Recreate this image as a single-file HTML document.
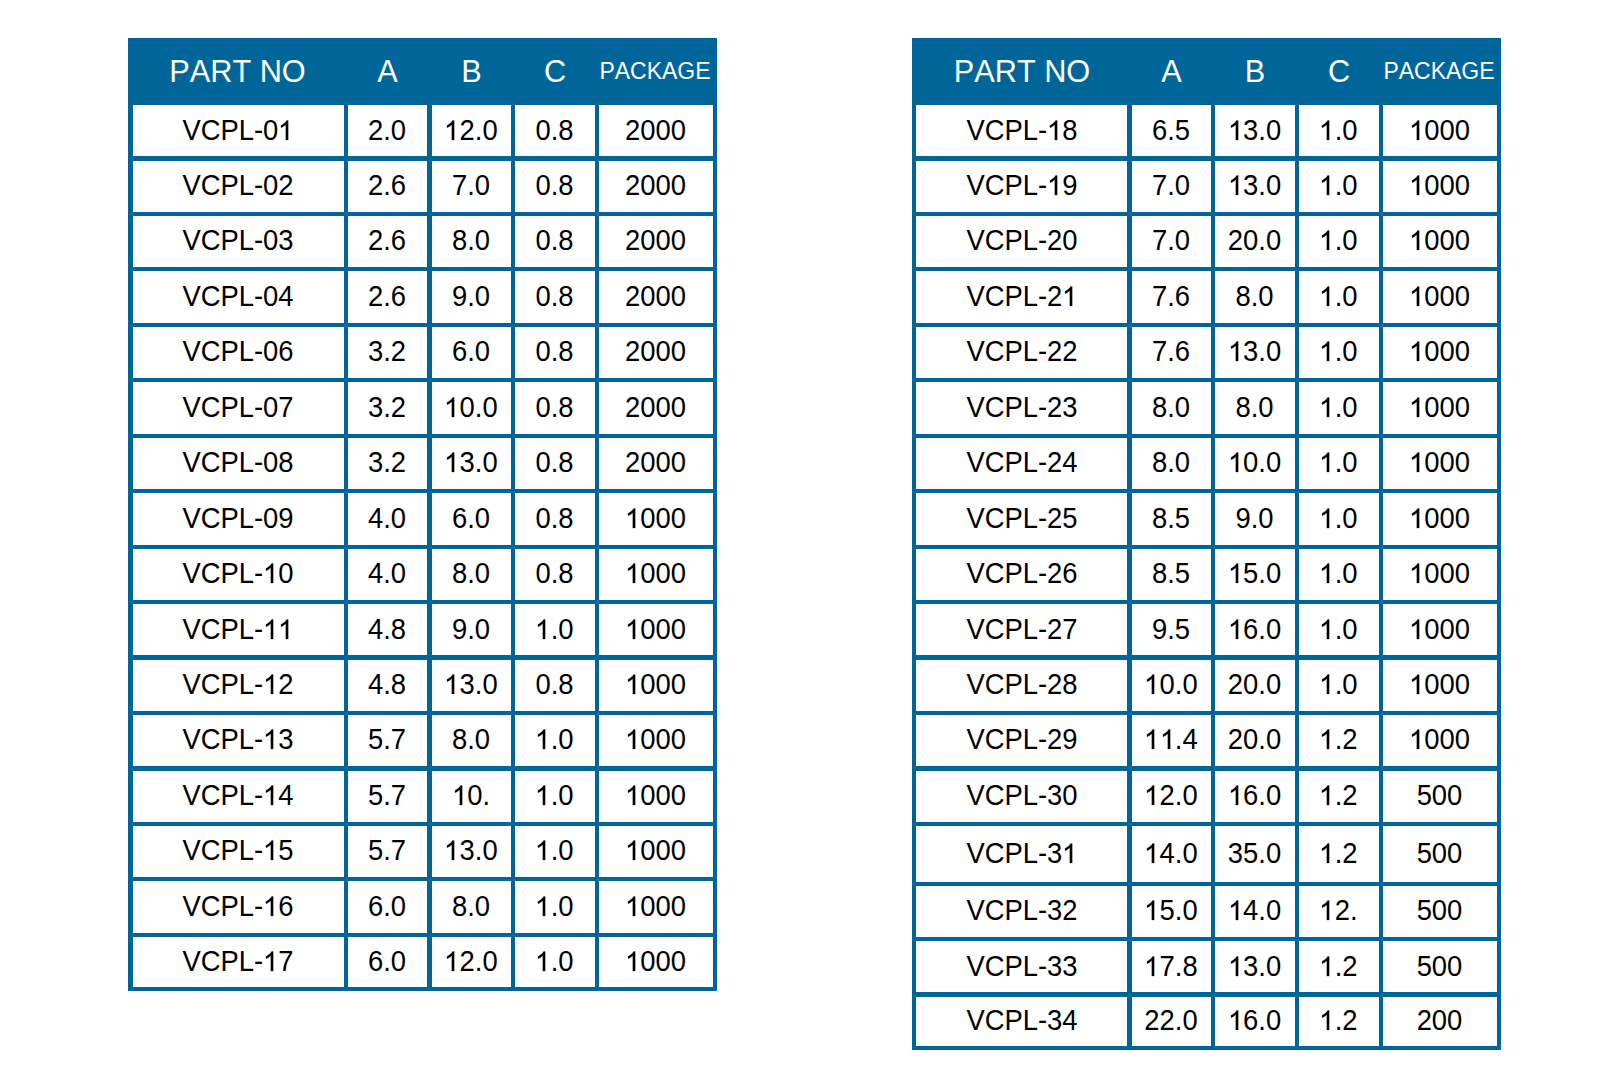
<!DOCTYPE html>
<html><head><meta charset="utf-8"><title>VCPL parts table</title>
<style>
html,body{margin:0;padding:0;background:#fff;}
body{width:1603px;height:1068px;position:relative;overflow:hidden;font-family:"Liberation Sans",sans-serif;}
.r{position:absolute;background:#006699;}
.c,.h,.hp{position:absolute;text-align:center;white-space:nowrap;font-kerning:none;transform:scaleY(1.041);transform-origin:50% 50%;}
.c{color:#000;font-size:27.4px;margin-left:-0.5px;transform:scaleY(1.0486);}
.h{color:#fff;font-size:30.7px;}
.hp{color:#fff;font-size:23px;margin-left:-1px;transform:scaleY(1.065);}
.one{display:inline-block;width:0.55615em;height:0.680em;vertical-align:0.010em;fill:#000;stroke:#000;stroke-width:16;overflow:visible;}
</style></head><body>
<div class="r" style="left:128px;top:38px;width:589px;height:67px"></div>
<div class="r" style="left:128px;top:105px;width:5px;height:886px"></div>
<div class="r" style="left:344px;top:105px;width:4px;height:886px"></div>
<div class="r" style="left:427px;top:105px;width:5px;height:886px"></div>
<div class="r" style="left:511px;top:105px;width:4px;height:886px"></div>
<div class="r" style="left:595px;top:105px;width:4px;height:886px"></div>
<div class="r" style="left:713px;top:105px;width:4px;height:886px"></div>
<div class="r" style="left:128px;top:156px;width:589px;height:5px"></div>
<div class="r" style="left:128px;top:212px;width:589px;height:4px"></div>
<div class="r" style="left:128px;top:267px;width:589px;height:4px"></div>
<div class="r" style="left:128px;top:323px;width:589px;height:4px"></div>
<div class="r" style="left:128px;top:378px;width:589px;height:4px"></div>
<div class="r" style="left:128px;top:434px;width:589px;height:4px"></div>
<div class="r" style="left:128px;top:489px;width:589px;height:4px"></div>
<div class="r" style="left:128px;top:545px;width:589px;height:4px"></div>
<div class="r" style="left:128px;top:600px;width:589px;height:4px"></div>
<div class="r" style="left:128px;top:655px;width:589px;height:5px"></div>
<div class="r" style="left:128px;top:711px;width:589px;height:4px"></div>
<div class="r" style="left:128px;top:766px;width:589px;height:5px"></div>
<div class="r" style="left:128px;top:822px;width:589px;height:4px"></div>
<div class="r" style="left:128px;top:877px;width:589px;height:4px"></div>
<div class="r" style="left:128px;top:933px;width:589px;height:4px"></div>
<div class="r" style="left:128px;top:987px;width:589px;height:4px"></div>
<div class="h" style="left:112px;top:38px;width:251px;height:67px;line-height:67px">PART NO</div>
<div class="h" style="left:328px;top:38px;width:119px;height:67px;line-height:67px">A</div>
<div class="h" style="left:412px;top:38px;width:119px;height:67px;line-height:67px">B</div>
<div class="h" style="left:495px;top:38px;width:120px;height:67px;line-height:67px">C</div>
<div class="hp" style="left:579px;top:38px;width:154px;height:67px;line-height:67px">PACKAGE</div>
<div class="c" style="left:133px;top:111px;width:211px;height:40px;line-height:40px">VCPL-0<svg class="one" viewBox="0 -1472 1139 1472" preserveAspectRatio="none"><path d="M763 0H583V-1147Q518 -1085 412.5 -1023Q307 -961 223 -930V-1104Q374 -1175 487 -1276Q600 -1377 647 -1472H763Z"/></svg></div>
<div class="c" style="left:348px;top:111px;width:79px;height:40px;line-height:40px">2.0</div>
<div class="c" style="left:432px;top:111px;width:79px;height:40px;line-height:40px"><svg class="one" viewBox="0 -1472 1139 1472" preserveAspectRatio="none"><path d="M763 0H583V-1147Q518 -1085 412.5 -1023Q307 -961 223 -930V-1104Q374 -1175 487 -1276Q600 -1377 647 -1472H763Z"/></svg>2.0</div>
<div class="c" style="left:515px;top:111px;width:80px;height:40px;line-height:40px">0.8</div>
<div class="c" style="left:599px;top:111px;width:114px;height:40px;line-height:40px">2000</div>
<div class="c" style="left:133px;top:166px;width:211px;height:40px;line-height:40px">VCPL-02</div>
<div class="c" style="left:348px;top:166px;width:79px;height:40px;line-height:40px">2.6</div>
<div class="c" style="left:432px;top:166px;width:79px;height:40px;line-height:40px">7.0</div>
<div class="c" style="left:515px;top:166px;width:80px;height:40px;line-height:40px">0.8</div>
<div class="c" style="left:599px;top:166px;width:114px;height:40px;line-height:40px">2000</div>
<div class="c" style="left:133px;top:221px;width:211px;height:40px;line-height:40px">VCPL-03</div>
<div class="c" style="left:348px;top:221px;width:79px;height:40px;line-height:40px">2.6</div>
<div class="c" style="left:432px;top:221px;width:79px;height:40px;line-height:40px">8.0</div>
<div class="c" style="left:515px;top:221px;width:80px;height:40px;line-height:40px">0.8</div>
<div class="c" style="left:599px;top:221px;width:114px;height:40px;line-height:40px">2000</div>
<div class="c" style="left:133px;top:277px;width:211px;height:40px;line-height:40px">VCPL-04</div>
<div class="c" style="left:348px;top:277px;width:79px;height:40px;line-height:40px">2.6</div>
<div class="c" style="left:432px;top:277px;width:79px;height:40px;line-height:40px">9.0</div>
<div class="c" style="left:515px;top:277px;width:80px;height:40px;line-height:40px">0.8</div>
<div class="c" style="left:599px;top:277px;width:114px;height:40px;line-height:40px">2000</div>
<div class="c" style="left:133px;top:332px;width:211px;height:40px;line-height:40px">VCPL-06</div>
<div class="c" style="left:348px;top:332px;width:79px;height:40px;line-height:40px">3.2</div>
<div class="c" style="left:432px;top:332px;width:79px;height:40px;line-height:40px">6.0</div>
<div class="c" style="left:515px;top:332px;width:80px;height:40px;line-height:40px">0.8</div>
<div class="c" style="left:599px;top:332px;width:114px;height:40px;line-height:40px">2000</div>
<div class="c" style="left:133px;top:388px;width:211px;height:40px;line-height:40px">VCPL-07</div>
<div class="c" style="left:348px;top:388px;width:79px;height:40px;line-height:40px">3.2</div>
<div class="c" style="left:432px;top:388px;width:79px;height:40px;line-height:40px"><svg class="one" viewBox="0 -1472 1139 1472" preserveAspectRatio="none"><path d="M763 0H583V-1147Q518 -1085 412.5 -1023Q307 -961 223 -930V-1104Q374 -1175 487 -1276Q600 -1377 647 -1472H763Z"/></svg>0.0</div>
<div class="c" style="left:515px;top:388px;width:80px;height:40px;line-height:40px">0.8</div>
<div class="c" style="left:599px;top:388px;width:114px;height:40px;line-height:40px">2000</div>
<div class="c" style="left:133px;top:443px;width:211px;height:40px;line-height:40px">VCPL-08</div>
<div class="c" style="left:348px;top:443px;width:79px;height:40px;line-height:40px">3.2</div>
<div class="c" style="left:432px;top:443px;width:79px;height:40px;line-height:40px"><svg class="one" viewBox="0 -1472 1139 1472" preserveAspectRatio="none"><path d="M763 0H583V-1147Q518 -1085 412.5 -1023Q307 -961 223 -930V-1104Q374 -1175 487 -1276Q600 -1377 647 -1472H763Z"/></svg>3.0</div>
<div class="c" style="left:515px;top:443px;width:80px;height:40px;line-height:40px">0.8</div>
<div class="c" style="left:599px;top:443px;width:114px;height:40px;line-height:40px">2000</div>
<div class="c" style="left:133px;top:499px;width:211px;height:40px;line-height:40px">VCPL-09</div>
<div class="c" style="left:348px;top:499px;width:79px;height:40px;line-height:40px">4.0</div>
<div class="c" style="left:432px;top:499px;width:79px;height:40px;line-height:40px">6.0</div>
<div class="c" style="left:515px;top:499px;width:80px;height:40px;line-height:40px">0.8</div>
<div class="c" style="left:599px;top:499px;width:114px;height:40px;line-height:40px"><svg class="one" viewBox="0 -1472 1139 1472" preserveAspectRatio="none"><path d="M763 0H583V-1147Q518 -1085 412.5 -1023Q307 -961 223 -930V-1104Q374 -1175 487 -1276Q600 -1377 647 -1472H763Z"/></svg>000</div>
<div class="c" style="left:133px;top:554px;width:211px;height:40px;line-height:40px">VCPL-<svg class="one" viewBox="0 -1472 1139 1472" preserveAspectRatio="none"><path d="M763 0H583V-1147Q518 -1085 412.5 -1023Q307 -961 223 -930V-1104Q374 -1175 487 -1276Q600 -1377 647 -1472H763Z"/></svg>0</div>
<div class="c" style="left:348px;top:554px;width:79px;height:40px;line-height:40px">4.0</div>
<div class="c" style="left:432px;top:554px;width:79px;height:40px;line-height:40px">8.0</div>
<div class="c" style="left:515px;top:554px;width:80px;height:40px;line-height:40px">0.8</div>
<div class="c" style="left:599px;top:554px;width:114px;height:40px;line-height:40px"><svg class="one" viewBox="0 -1472 1139 1472" preserveAspectRatio="none"><path d="M763 0H583V-1147Q518 -1085 412.5 -1023Q307 -961 223 -930V-1104Q374 -1175 487 -1276Q600 -1377 647 -1472H763Z"/></svg>000</div>
<div class="c" style="left:133px;top:610px;width:211px;height:40px;line-height:40px">VCPL-<svg class="one" viewBox="0 -1472 1139 1472" preserveAspectRatio="none"><path d="M763 0H583V-1147Q518 -1085 412.5 -1023Q307 -961 223 -930V-1104Q374 -1175 487 -1276Q600 -1377 647 -1472H763Z"/></svg><svg class="one" viewBox="0 -1472 1139 1472" preserveAspectRatio="none"><path d="M763 0H583V-1147Q518 -1085 412.5 -1023Q307 -961 223 -930V-1104Q374 -1175 487 -1276Q600 -1377 647 -1472H763Z"/></svg></div>
<div class="c" style="left:348px;top:610px;width:79px;height:40px;line-height:40px">4.8</div>
<div class="c" style="left:432px;top:610px;width:79px;height:40px;line-height:40px">9.0</div>
<div class="c" style="left:515px;top:610px;width:80px;height:40px;line-height:40px"><svg class="one" viewBox="0 -1472 1139 1472" preserveAspectRatio="none"><path d="M763 0H583V-1147Q518 -1085 412.5 -1023Q307 -961 223 -930V-1104Q374 -1175 487 -1276Q600 -1377 647 -1472H763Z"/></svg>.0</div>
<div class="c" style="left:599px;top:610px;width:114px;height:40px;line-height:40px"><svg class="one" viewBox="0 -1472 1139 1472" preserveAspectRatio="none"><path d="M763 0H583V-1147Q518 -1085 412.5 -1023Q307 -961 223 -930V-1104Q374 -1175 487 -1276Q600 -1377 647 -1472H763Z"/></svg>000</div>
<div class="c" style="left:133px;top:665px;width:211px;height:40px;line-height:40px">VCPL-<svg class="one" viewBox="0 -1472 1139 1472" preserveAspectRatio="none"><path d="M763 0H583V-1147Q518 -1085 412.5 -1023Q307 -961 223 -930V-1104Q374 -1175 487 -1276Q600 -1377 647 -1472H763Z"/></svg>2</div>
<div class="c" style="left:348px;top:665px;width:79px;height:40px;line-height:40px">4.8</div>
<div class="c" style="left:432px;top:665px;width:79px;height:40px;line-height:40px"><svg class="one" viewBox="0 -1472 1139 1472" preserveAspectRatio="none"><path d="M763 0H583V-1147Q518 -1085 412.5 -1023Q307 -961 223 -930V-1104Q374 -1175 487 -1276Q600 -1377 647 -1472H763Z"/></svg>3.0</div>
<div class="c" style="left:515px;top:665px;width:80px;height:40px;line-height:40px">0.8</div>
<div class="c" style="left:599px;top:665px;width:114px;height:40px;line-height:40px"><svg class="one" viewBox="0 -1472 1139 1472" preserveAspectRatio="none"><path d="M763 0H583V-1147Q518 -1085 412.5 -1023Q307 -961 223 -930V-1104Q374 -1175 487 -1276Q600 -1377 647 -1472H763Z"/></svg>000</div>
<div class="c" style="left:133px;top:720px;width:211px;height:40px;line-height:40px">VCPL-<svg class="one" viewBox="0 -1472 1139 1472" preserveAspectRatio="none"><path d="M763 0H583V-1147Q518 -1085 412.5 -1023Q307 -961 223 -930V-1104Q374 -1175 487 -1276Q600 -1377 647 -1472H763Z"/></svg>3</div>
<div class="c" style="left:348px;top:720px;width:79px;height:40px;line-height:40px">5.7</div>
<div class="c" style="left:432px;top:720px;width:79px;height:40px;line-height:40px">8.0</div>
<div class="c" style="left:515px;top:720px;width:80px;height:40px;line-height:40px"><svg class="one" viewBox="0 -1472 1139 1472" preserveAspectRatio="none"><path d="M763 0H583V-1147Q518 -1085 412.5 -1023Q307 -961 223 -930V-1104Q374 -1175 487 -1276Q600 -1377 647 -1472H763Z"/></svg>.0</div>
<div class="c" style="left:599px;top:720px;width:114px;height:40px;line-height:40px"><svg class="one" viewBox="0 -1472 1139 1472" preserveAspectRatio="none"><path d="M763 0H583V-1147Q518 -1085 412.5 -1023Q307 -961 223 -930V-1104Q374 -1175 487 -1276Q600 -1377 647 -1472H763Z"/></svg>000</div>
<div class="c" style="left:133px;top:776px;width:211px;height:40px;line-height:40px">VCPL-<svg class="one" viewBox="0 -1472 1139 1472" preserveAspectRatio="none"><path d="M763 0H583V-1147Q518 -1085 412.5 -1023Q307 -961 223 -930V-1104Q374 -1175 487 -1276Q600 -1377 647 -1472H763Z"/></svg>4</div>
<div class="c" style="left:348px;top:776px;width:79px;height:40px;line-height:40px">5.7</div>
<div class="c" style="left:432px;top:776px;width:79px;height:40px;line-height:40px"><svg class="one" viewBox="0 -1472 1139 1472" preserveAspectRatio="none"><path d="M763 0H583V-1147Q518 -1085 412.5 -1023Q307 -961 223 -930V-1104Q374 -1175 487 -1276Q600 -1377 647 -1472H763Z"/></svg>0.</div>
<div class="c" style="left:515px;top:776px;width:80px;height:40px;line-height:40px"><svg class="one" viewBox="0 -1472 1139 1472" preserveAspectRatio="none"><path d="M763 0H583V-1147Q518 -1085 412.5 -1023Q307 -961 223 -930V-1104Q374 -1175 487 -1276Q600 -1377 647 -1472H763Z"/></svg>.0</div>
<div class="c" style="left:599px;top:776px;width:114px;height:40px;line-height:40px"><svg class="one" viewBox="0 -1472 1139 1472" preserveAspectRatio="none"><path d="M763 0H583V-1147Q518 -1085 412.5 -1023Q307 -961 223 -930V-1104Q374 -1175 487 -1276Q600 -1377 647 -1472H763Z"/></svg>000</div>
<div class="c" style="left:133px;top:831px;width:211px;height:40px;line-height:40px">VCPL-<svg class="one" viewBox="0 -1472 1139 1472" preserveAspectRatio="none"><path d="M763 0H583V-1147Q518 -1085 412.5 -1023Q307 -961 223 -930V-1104Q374 -1175 487 -1276Q600 -1377 647 -1472H763Z"/></svg>5</div>
<div class="c" style="left:348px;top:831px;width:79px;height:40px;line-height:40px">5.7</div>
<div class="c" style="left:432px;top:831px;width:79px;height:40px;line-height:40px"><svg class="one" viewBox="0 -1472 1139 1472" preserveAspectRatio="none"><path d="M763 0H583V-1147Q518 -1085 412.5 -1023Q307 -961 223 -930V-1104Q374 -1175 487 -1276Q600 -1377 647 -1472H763Z"/></svg>3.0</div>
<div class="c" style="left:515px;top:831px;width:80px;height:40px;line-height:40px"><svg class="one" viewBox="0 -1472 1139 1472" preserveAspectRatio="none"><path d="M763 0H583V-1147Q518 -1085 412.5 -1023Q307 -961 223 -930V-1104Q374 -1175 487 -1276Q600 -1377 647 -1472H763Z"/></svg>.0</div>
<div class="c" style="left:599px;top:831px;width:114px;height:40px;line-height:40px"><svg class="one" viewBox="0 -1472 1139 1472" preserveAspectRatio="none"><path d="M763 0H583V-1147Q518 -1085 412.5 -1023Q307 -961 223 -930V-1104Q374 -1175 487 -1276Q600 -1377 647 -1472H763Z"/></svg>000</div>
<div class="c" style="left:133px;top:887px;width:211px;height:40px;line-height:40px">VCPL-<svg class="one" viewBox="0 -1472 1139 1472" preserveAspectRatio="none"><path d="M763 0H583V-1147Q518 -1085 412.5 -1023Q307 -961 223 -930V-1104Q374 -1175 487 -1276Q600 -1377 647 -1472H763Z"/></svg>6</div>
<div class="c" style="left:348px;top:887px;width:79px;height:40px;line-height:40px">6.0</div>
<div class="c" style="left:432px;top:887px;width:79px;height:40px;line-height:40px">8.0</div>
<div class="c" style="left:515px;top:887px;width:80px;height:40px;line-height:40px"><svg class="one" viewBox="0 -1472 1139 1472" preserveAspectRatio="none"><path d="M763 0H583V-1147Q518 -1085 412.5 -1023Q307 -961 223 -930V-1104Q374 -1175 487 -1276Q600 -1377 647 -1472H763Z"/></svg>.0</div>
<div class="c" style="left:599px;top:887px;width:114px;height:40px;line-height:40px"><svg class="one" viewBox="0 -1472 1139 1472" preserveAspectRatio="none"><path d="M763 0H583V-1147Q518 -1085 412.5 -1023Q307 -961 223 -930V-1104Q374 -1175 487 -1276Q600 -1377 647 -1472H763Z"/></svg>000</div>
<div class="c" style="left:133px;top:942px;width:211px;height:40px;line-height:40px">VCPL-<svg class="one" viewBox="0 -1472 1139 1472" preserveAspectRatio="none"><path d="M763 0H583V-1147Q518 -1085 412.5 -1023Q307 -961 223 -930V-1104Q374 -1175 487 -1276Q600 -1377 647 -1472H763Z"/></svg>7</div>
<div class="c" style="left:348px;top:942px;width:79px;height:40px;line-height:40px">6.0</div>
<div class="c" style="left:432px;top:942px;width:79px;height:40px;line-height:40px"><svg class="one" viewBox="0 -1472 1139 1472" preserveAspectRatio="none"><path d="M763 0H583V-1147Q518 -1085 412.5 -1023Q307 -961 223 -930V-1104Q374 -1175 487 -1276Q600 -1377 647 -1472H763Z"/></svg>2.0</div>
<div class="c" style="left:515px;top:942px;width:80px;height:40px;line-height:40px"><svg class="one" viewBox="0 -1472 1139 1472" preserveAspectRatio="none"><path d="M763 0H583V-1147Q518 -1085 412.5 -1023Q307 -961 223 -930V-1104Q374 -1175 487 -1276Q600 -1377 647 -1472H763Z"/></svg>.0</div>
<div class="c" style="left:599px;top:942px;width:114px;height:40px;line-height:40px"><svg class="one" viewBox="0 -1472 1139 1472" preserveAspectRatio="none"><path d="M763 0H583V-1147Q518 -1085 412.5 -1023Q307 -961 223 -930V-1104Q374 -1175 487 -1276Q600 -1377 647 -1472H763Z"/></svg>000</div>
<div class="r" style="left:912px;top:38px;width:589px;height:67px"></div>
<div class="r" style="left:912px;top:105px;width:4px;height:945px"></div>
<div class="r" style="left:1127px;top:105px;width:5px;height:945px"></div>
<div class="r" style="left:1211px;top:105px;width:4px;height:945px"></div>
<div class="r" style="left:1295px;top:105px;width:4px;height:945px"></div>
<div class="r" style="left:1379px;top:105px;width:4px;height:945px"></div>
<div class="r" style="left:1497px;top:105px;width:4px;height:945px"></div>
<div class="r" style="left:912px;top:156px;width:589px;height:5px"></div>
<div class="r" style="left:912px;top:212px;width:589px;height:4px"></div>
<div class="r" style="left:912px;top:267px;width:589px;height:4px"></div>
<div class="r" style="left:912px;top:323px;width:589px;height:4px"></div>
<div class="r" style="left:912px;top:378px;width:589px;height:4px"></div>
<div class="r" style="left:912px;top:434px;width:589px;height:4px"></div>
<div class="r" style="left:912px;top:489px;width:589px;height:4px"></div>
<div class="r" style="left:912px;top:545px;width:589px;height:4px"></div>
<div class="r" style="left:912px;top:600px;width:589px;height:4px"></div>
<div class="r" style="left:912px;top:655px;width:589px;height:5px"></div>
<div class="r" style="left:912px;top:711px;width:589px;height:4px"></div>
<div class="r" style="left:912px;top:766px;width:589px;height:5px"></div>
<div class="r" style="left:912px;top:822px;width:589px;height:4px"></div>
<div class="r" style="left:912px;top:882px;width:589px;height:4px"></div>
<div class="r" style="left:912px;top:937px;width:589px;height:4px"></div>
<div class="r" style="left:912px;top:992px;width:589px;height:5px"></div>
<div class="r" style="left:912px;top:1046px;width:589px;height:4px"></div>
<div class="h" style="left:896.5px;top:38px;width:251.0px;height:67px;line-height:67px">PART NO</div>
<div class="h" style="left:1112px;top:38px;width:119px;height:67px;line-height:67px">A</div>
<div class="h" style="left:1195px;top:38px;width:120px;height:67px;line-height:67px">B</div>
<div class="h" style="left:1279px;top:38px;width:120px;height:67px;line-height:67px">C</div>
<div class="hp" style="left:1363px;top:38px;width:154px;height:67px;line-height:67px">PACKAGE</div>
<div class="c" style="left:917px;top:111px;width:211px;height:40px;line-height:40px">VCPL-<svg class="one" viewBox="0 -1472 1139 1472" preserveAspectRatio="none"><path d="M763 0H583V-1147Q518 -1085 412.5 -1023Q307 -961 223 -930V-1104Q374 -1175 487 -1276Q600 -1377 647 -1472H763Z"/></svg>8</div>
<div class="c" style="left:1132px;top:111px;width:79px;height:40px;line-height:40px">6.5</div>
<div class="c" style="left:1215px;top:111px;width:80px;height:40px;line-height:40px"><svg class="one" viewBox="0 -1472 1139 1472" preserveAspectRatio="none"><path d="M763 0H583V-1147Q518 -1085 412.5 -1023Q307 -961 223 -930V-1104Q374 -1175 487 -1276Q600 -1377 647 -1472H763Z"/></svg>3.0</div>
<div class="c" style="left:1299px;top:111px;width:80px;height:40px;line-height:40px"><svg class="one" viewBox="0 -1472 1139 1472" preserveAspectRatio="none"><path d="M763 0H583V-1147Q518 -1085 412.5 -1023Q307 -961 223 -930V-1104Q374 -1175 487 -1276Q600 -1377 647 -1472H763Z"/></svg>.0</div>
<div class="c" style="left:1383px;top:111px;width:114px;height:40px;line-height:40px"><svg class="one" viewBox="0 -1472 1139 1472" preserveAspectRatio="none"><path d="M763 0H583V-1147Q518 -1085 412.5 -1023Q307 -961 223 -930V-1104Q374 -1175 487 -1276Q600 -1377 647 -1472H763Z"/></svg>000</div>
<div class="c" style="left:917px;top:166px;width:211px;height:40px;line-height:40px">VCPL-<svg class="one" viewBox="0 -1472 1139 1472" preserveAspectRatio="none"><path d="M763 0H583V-1147Q518 -1085 412.5 -1023Q307 -961 223 -930V-1104Q374 -1175 487 -1276Q600 -1377 647 -1472H763Z"/></svg>9</div>
<div class="c" style="left:1132px;top:166px;width:79px;height:40px;line-height:40px">7.0</div>
<div class="c" style="left:1215px;top:166px;width:80px;height:40px;line-height:40px"><svg class="one" viewBox="0 -1472 1139 1472" preserveAspectRatio="none"><path d="M763 0H583V-1147Q518 -1085 412.5 -1023Q307 -961 223 -930V-1104Q374 -1175 487 -1276Q600 -1377 647 -1472H763Z"/></svg>3.0</div>
<div class="c" style="left:1299px;top:166px;width:80px;height:40px;line-height:40px"><svg class="one" viewBox="0 -1472 1139 1472" preserveAspectRatio="none"><path d="M763 0H583V-1147Q518 -1085 412.5 -1023Q307 -961 223 -930V-1104Q374 -1175 487 -1276Q600 -1377 647 -1472H763Z"/></svg>.0</div>
<div class="c" style="left:1383px;top:166px;width:114px;height:40px;line-height:40px"><svg class="one" viewBox="0 -1472 1139 1472" preserveAspectRatio="none"><path d="M763 0H583V-1147Q518 -1085 412.5 -1023Q307 -961 223 -930V-1104Q374 -1175 487 -1276Q600 -1377 647 -1472H763Z"/></svg>000</div>
<div class="c" style="left:917px;top:221px;width:211px;height:40px;line-height:40px">VCPL-20</div>
<div class="c" style="left:1132px;top:221px;width:79px;height:40px;line-height:40px">7.0</div>
<div class="c" style="left:1215px;top:221px;width:80px;height:40px;line-height:40px">20.0</div>
<div class="c" style="left:1299px;top:221px;width:80px;height:40px;line-height:40px"><svg class="one" viewBox="0 -1472 1139 1472" preserveAspectRatio="none"><path d="M763 0H583V-1147Q518 -1085 412.5 -1023Q307 -961 223 -930V-1104Q374 -1175 487 -1276Q600 -1377 647 -1472H763Z"/></svg>.0</div>
<div class="c" style="left:1383px;top:221px;width:114px;height:40px;line-height:40px"><svg class="one" viewBox="0 -1472 1139 1472" preserveAspectRatio="none"><path d="M763 0H583V-1147Q518 -1085 412.5 -1023Q307 -961 223 -930V-1104Q374 -1175 487 -1276Q600 -1377 647 -1472H763Z"/></svg>000</div>
<div class="c" style="left:917px;top:277px;width:211px;height:40px;line-height:40px">VCPL-2<svg class="one" viewBox="0 -1472 1139 1472" preserveAspectRatio="none"><path d="M763 0H583V-1147Q518 -1085 412.5 -1023Q307 -961 223 -930V-1104Q374 -1175 487 -1276Q600 -1377 647 -1472H763Z"/></svg></div>
<div class="c" style="left:1132px;top:277px;width:79px;height:40px;line-height:40px">7.6</div>
<div class="c" style="left:1215px;top:277px;width:80px;height:40px;line-height:40px">8.0</div>
<div class="c" style="left:1299px;top:277px;width:80px;height:40px;line-height:40px"><svg class="one" viewBox="0 -1472 1139 1472" preserveAspectRatio="none"><path d="M763 0H583V-1147Q518 -1085 412.5 -1023Q307 -961 223 -930V-1104Q374 -1175 487 -1276Q600 -1377 647 -1472H763Z"/></svg>.0</div>
<div class="c" style="left:1383px;top:277px;width:114px;height:40px;line-height:40px"><svg class="one" viewBox="0 -1472 1139 1472" preserveAspectRatio="none"><path d="M763 0H583V-1147Q518 -1085 412.5 -1023Q307 -961 223 -930V-1104Q374 -1175 487 -1276Q600 -1377 647 -1472H763Z"/></svg>000</div>
<div class="c" style="left:917px;top:332px;width:211px;height:40px;line-height:40px">VCPL-22</div>
<div class="c" style="left:1132px;top:332px;width:79px;height:40px;line-height:40px">7.6</div>
<div class="c" style="left:1215px;top:332px;width:80px;height:40px;line-height:40px"><svg class="one" viewBox="0 -1472 1139 1472" preserveAspectRatio="none"><path d="M763 0H583V-1147Q518 -1085 412.5 -1023Q307 -961 223 -930V-1104Q374 -1175 487 -1276Q600 -1377 647 -1472H763Z"/></svg>3.0</div>
<div class="c" style="left:1299px;top:332px;width:80px;height:40px;line-height:40px"><svg class="one" viewBox="0 -1472 1139 1472" preserveAspectRatio="none"><path d="M763 0H583V-1147Q518 -1085 412.5 -1023Q307 -961 223 -930V-1104Q374 -1175 487 -1276Q600 -1377 647 -1472H763Z"/></svg>.0</div>
<div class="c" style="left:1383px;top:332px;width:114px;height:40px;line-height:40px"><svg class="one" viewBox="0 -1472 1139 1472" preserveAspectRatio="none"><path d="M763 0H583V-1147Q518 -1085 412.5 -1023Q307 -961 223 -930V-1104Q374 -1175 487 -1276Q600 -1377 647 -1472H763Z"/></svg>000</div>
<div class="c" style="left:917px;top:388px;width:211px;height:40px;line-height:40px">VCPL-23</div>
<div class="c" style="left:1132px;top:388px;width:79px;height:40px;line-height:40px">8.0</div>
<div class="c" style="left:1215px;top:388px;width:80px;height:40px;line-height:40px">8.0</div>
<div class="c" style="left:1299px;top:388px;width:80px;height:40px;line-height:40px"><svg class="one" viewBox="0 -1472 1139 1472" preserveAspectRatio="none"><path d="M763 0H583V-1147Q518 -1085 412.5 -1023Q307 -961 223 -930V-1104Q374 -1175 487 -1276Q600 -1377 647 -1472H763Z"/></svg>.0</div>
<div class="c" style="left:1383px;top:388px;width:114px;height:40px;line-height:40px"><svg class="one" viewBox="0 -1472 1139 1472" preserveAspectRatio="none"><path d="M763 0H583V-1147Q518 -1085 412.5 -1023Q307 -961 223 -930V-1104Q374 -1175 487 -1276Q600 -1377 647 -1472H763Z"/></svg>000</div>
<div class="c" style="left:917px;top:443px;width:211px;height:40px;line-height:40px">VCPL-24</div>
<div class="c" style="left:1132px;top:443px;width:79px;height:40px;line-height:40px">8.0</div>
<div class="c" style="left:1215px;top:443px;width:80px;height:40px;line-height:40px"><svg class="one" viewBox="0 -1472 1139 1472" preserveAspectRatio="none"><path d="M763 0H583V-1147Q518 -1085 412.5 -1023Q307 -961 223 -930V-1104Q374 -1175 487 -1276Q600 -1377 647 -1472H763Z"/></svg>0.0</div>
<div class="c" style="left:1299px;top:443px;width:80px;height:40px;line-height:40px"><svg class="one" viewBox="0 -1472 1139 1472" preserveAspectRatio="none"><path d="M763 0H583V-1147Q518 -1085 412.5 -1023Q307 -961 223 -930V-1104Q374 -1175 487 -1276Q600 -1377 647 -1472H763Z"/></svg>.0</div>
<div class="c" style="left:1383px;top:443px;width:114px;height:40px;line-height:40px"><svg class="one" viewBox="0 -1472 1139 1472" preserveAspectRatio="none"><path d="M763 0H583V-1147Q518 -1085 412.5 -1023Q307 -961 223 -930V-1104Q374 -1175 487 -1276Q600 -1377 647 -1472H763Z"/></svg>000</div>
<div class="c" style="left:917px;top:499px;width:211px;height:40px;line-height:40px">VCPL-25</div>
<div class="c" style="left:1132px;top:499px;width:79px;height:40px;line-height:40px">8.5</div>
<div class="c" style="left:1215px;top:499px;width:80px;height:40px;line-height:40px">9.0</div>
<div class="c" style="left:1299px;top:499px;width:80px;height:40px;line-height:40px"><svg class="one" viewBox="0 -1472 1139 1472" preserveAspectRatio="none"><path d="M763 0H583V-1147Q518 -1085 412.5 -1023Q307 -961 223 -930V-1104Q374 -1175 487 -1276Q600 -1377 647 -1472H763Z"/></svg>.0</div>
<div class="c" style="left:1383px;top:499px;width:114px;height:40px;line-height:40px"><svg class="one" viewBox="0 -1472 1139 1472" preserveAspectRatio="none"><path d="M763 0H583V-1147Q518 -1085 412.5 -1023Q307 -961 223 -930V-1104Q374 -1175 487 -1276Q600 -1377 647 -1472H763Z"/></svg>000</div>
<div class="c" style="left:917px;top:554px;width:211px;height:40px;line-height:40px">VCPL-26</div>
<div class="c" style="left:1132px;top:554px;width:79px;height:40px;line-height:40px">8.5</div>
<div class="c" style="left:1215px;top:554px;width:80px;height:40px;line-height:40px"><svg class="one" viewBox="0 -1472 1139 1472" preserveAspectRatio="none"><path d="M763 0H583V-1147Q518 -1085 412.5 -1023Q307 -961 223 -930V-1104Q374 -1175 487 -1276Q600 -1377 647 -1472H763Z"/></svg>5.0</div>
<div class="c" style="left:1299px;top:554px;width:80px;height:40px;line-height:40px"><svg class="one" viewBox="0 -1472 1139 1472" preserveAspectRatio="none"><path d="M763 0H583V-1147Q518 -1085 412.5 -1023Q307 -961 223 -930V-1104Q374 -1175 487 -1276Q600 -1377 647 -1472H763Z"/></svg>.0</div>
<div class="c" style="left:1383px;top:554px;width:114px;height:40px;line-height:40px"><svg class="one" viewBox="0 -1472 1139 1472" preserveAspectRatio="none"><path d="M763 0H583V-1147Q518 -1085 412.5 -1023Q307 -961 223 -930V-1104Q374 -1175 487 -1276Q600 -1377 647 -1472H763Z"/></svg>000</div>
<div class="c" style="left:917px;top:610px;width:211px;height:40px;line-height:40px">VCPL-27</div>
<div class="c" style="left:1132px;top:610px;width:79px;height:40px;line-height:40px">9.5</div>
<div class="c" style="left:1215px;top:610px;width:80px;height:40px;line-height:40px"><svg class="one" viewBox="0 -1472 1139 1472" preserveAspectRatio="none"><path d="M763 0H583V-1147Q518 -1085 412.5 -1023Q307 -961 223 -930V-1104Q374 -1175 487 -1276Q600 -1377 647 -1472H763Z"/></svg>6.0</div>
<div class="c" style="left:1299px;top:610px;width:80px;height:40px;line-height:40px"><svg class="one" viewBox="0 -1472 1139 1472" preserveAspectRatio="none"><path d="M763 0H583V-1147Q518 -1085 412.5 -1023Q307 -961 223 -930V-1104Q374 -1175 487 -1276Q600 -1377 647 -1472H763Z"/></svg>.0</div>
<div class="c" style="left:1383px;top:610px;width:114px;height:40px;line-height:40px"><svg class="one" viewBox="0 -1472 1139 1472" preserveAspectRatio="none"><path d="M763 0H583V-1147Q518 -1085 412.5 -1023Q307 -961 223 -930V-1104Q374 -1175 487 -1276Q600 -1377 647 -1472H763Z"/></svg>000</div>
<div class="c" style="left:917px;top:665px;width:211px;height:40px;line-height:40px">VCPL-28</div>
<div class="c" style="left:1132px;top:665px;width:79px;height:40px;line-height:40px"><svg class="one" viewBox="0 -1472 1139 1472" preserveAspectRatio="none"><path d="M763 0H583V-1147Q518 -1085 412.5 -1023Q307 -961 223 -930V-1104Q374 -1175 487 -1276Q600 -1377 647 -1472H763Z"/></svg>0.0</div>
<div class="c" style="left:1215px;top:665px;width:80px;height:40px;line-height:40px">20.0</div>
<div class="c" style="left:1299px;top:665px;width:80px;height:40px;line-height:40px"><svg class="one" viewBox="0 -1472 1139 1472" preserveAspectRatio="none"><path d="M763 0H583V-1147Q518 -1085 412.5 -1023Q307 -961 223 -930V-1104Q374 -1175 487 -1276Q600 -1377 647 -1472H763Z"/></svg>.0</div>
<div class="c" style="left:1383px;top:665px;width:114px;height:40px;line-height:40px"><svg class="one" viewBox="0 -1472 1139 1472" preserveAspectRatio="none"><path d="M763 0H583V-1147Q518 -1085 412.5 -1023Q307 -961 223 -930V-1104Q374 -1175 487 -1276Q600 -1377 647 -1472H763Z"/></svg>000</div>
<div class="c" style="left:917px;top:720px;width:211px;height:40px;line-height:40px">VCPL-29</div>
<div class="c" style="left:1132px;top:720px;width:79px;height:40px;line-height:40px"><svg class="one" viewBox="0 -1472 1139 1472" preserveAspectRatio="none"><path d="M763 0H583V-1147Q518 -1085 412.5 -1023Q307 -961 223 -930V-1104Q374 -1175 487 -1276Q600 -1377 647 -1472H763Z"/></svg><svg class="one" viewBox="0 -1472 1139 1472" preserveAspectRatio="none"><path d="M763 0H583V-1147Q518 -1085 412.5 -1023Q307 -961 223 -930V-1104Q374 -1175 487 -1276Q600 -1377 647 -1472H763Z"/></svg>.4</div>
<div class="c" style="left:1215px;top:720px;width:80px;height:40px;line-height:40px">20.0</div>
<div class="c" style="left:1299px;top:720px;width:80px;height:40px;line-height:40px"><svg class="one" viewBox="0 -1472 1139 1472" preserveAspectRatio="none"><path d="M763 0H583V-1147Q518 -1085 412.5 -1023Q307 -961 223 -930V-1104Q374 -1175 487 -1276Q600 -1377 647 -1472H763Z"/></svg>.2</div>
<div class="c" style="left:1383px;top:720px;width:114px;height:40px;line-height:40px"><svg class="one" viewBox="0 -1472 1139 1472" preserveAspectRatio="none"><path d="M763 0H583V-1147Q518 -1085 412.5 -1023Q307 -961 223 -930V-1104Q374 -1175 487 -1276Q600 -1377 647 -1472H763Z"/></svg>000</div>
<div class="c" style="left:917px;top:776px;width:211px;height:40px;line-height:40px">VCPL-30</div>
<div class="c" style="left:1132px;top:776px;width:79px;height:40px;line-height:40px"><svg class="one" viewBox="0 -1472 1139 1472" preserveAspectRatio="none"><path d="M763 0H583V-1147Q518 -1085 412.5 -1023Q307 -961 223 -930V-1104Q374 -1175 487 -1276Q600 -1377 647 -1472H763Z"/></svg>2.0</div>
<div class="c" style="left:1215px;top:776px;width:80px;height:40px;line-height:40px"><svg class="one" viewBox="0 -1472 1139 1472" preserveAspectRatio="none"><path d="M763 0H583V-1147Q518 -1085 412.5 -1023Q307 -961 223 -930V-1104Q374 -1175 487 -1276Q600 -1377 647 -1472H763Z"/></svg>6.0</div>
<div class="c" style="left:1299px;top:776px;width:80px;height:40px;line-height:40px"><svg class="one" viewBox="0 -1472 1139 1472" preserveAspectRatio="none"><path d="M763 0H583V-1147Q518 -1085 412.5 -1023Q307 -961 223 -930V-1104Q374 -1175 487 -1276Q600 -1377 647 -1472H763Z"/></svg>.2</div>
<div class="c" style="left:1383px;top:776px;width:114px;height:40px;line-height:40px">500</div>
<div class="c" style="left:917px;top:834px;width:211px;height:40px;line-height:40px">VCPL-3<svg class="one" viewBox="0 -1472 1139 1472" preserveAspectRatio="none"><path d="M763 0H583V-1147Q518 -1085 412.5 -1023Q307 -961 223 -930V-1104Q374 -1175 487 -1276Q600 -1377 647 -1472H763Z"/></svg></div>
<div class="c" style="left:1132px;top:834px;width:79px;height:40px;line-height:40px"><svg class="one" viewBox="0 -1472 1139 1472" preserveAspectRatio="none"><path d="M763 0H583V-1147Q518 -1085 412.5 -1023Q307 -961 223 -930V-1104Q374 -1175 487 -1276Q600 -1377 647 -1472H763Z"/></svg>4.0</div>
<div class="c" style="left:1215px;top:834px;width:80px;height:40px;line-height:40px">35.0</div>
<div class="c" style="left:1299px;top:834px;width:80px;height:40px;line-height:40px"><svg class="one" viewBox="0 -1472 1139 1472" preserveAspectRatio="none"><path d="M763 0H583V-1147Q518 -1085 412.5 -1023Q307 -961 223 -930V-1104Q374 -1175 487 -1276Q600 -1377 647 -1472H763Z"/></svg>.2</div>
<div class="c" style="left:1383px;top:834px;width:114px;height:40px;line-height:40px">500</div>
<div class="c" style="left:917px;top:891px;width:211px;height:40px;line-height:40px">VCPL-32</div>
<div class="c" style="left:1132px;top:891px;width:79px;height:40px;line-height:40px"><svg class="one" viewBox="0 -1472 1139 1472" preserveAspectRatio="none"><path d="M763 0H583V-1147Q518 -1085 412.5 -1023Q307 -961 223 -930V-1104Q374 -1175 487 -1276Q600 -1377 647 -1472H763Z"/></svg>5.0</div>
<div class="c" style="left:1215px;top:891px;width:80px;height:40px;line-height:40px"><svg class="one" viewBox="0 -1472 1139 1472" preserveAspectRatio="none"><path d="M763 0H583V-1147Q518 -1085 412.5 -1023Q307 -961 223 -930V-1104Q374 -1175 487 -1276Q600 -1377 647 -1472H763Z"/></svg>4.0</div>
<div class="c" style="left:1299px;top:891px;width:80px;height:40px;line-height:40px"><svg class="one" viewBox="0 -1472 1139 1472" preserveAspectRatio="none"><path d="M763 0H583V-1147Q518 -1085 412.5 -1023Q307 -961 223 -930V-1104Q374 -1175 487 -1276Q600 -1377 647 -1472H763Z"/></svg>2.</div>
<div class="c" style="left:1383px;top:891px;width:114px;height:40px;line-height:40px">500</div>
<div class="c" style="left:917px;top:947px;width:211px;height:40px;line-height:40px">VCPL-33</div>
<div class="c" style="left:1132px;top:947px;width:79px;height:40px;line-height:40px"><svg class="one" viewBox="0 -1472 1139 1472" preserveAspectRatio="none"><path d="M763 0H583V-1147Q518 -1085 412.5 -1023Q307 -961 223 -930V-1104Q374 -1175 487 -1276Q600 -1377 647 -1472H763Z"/></svg>7.8</div>
<div class="c" style="left:1215px;top:947px;width:80px;height:40px;line-height:40px"><svg class="one" viewBox="0 -1472 1139 1472" preserveAspectRatio="none"><path d="M763 0H583V-1147Q518 -1085 412.5 -1023Q307 -961 223 -930V-1104Q374 -1175 487 -1276Q600 -1377 647 -1472H763Z"/></svg>3.0</div>
<div class="c" style="left:1299px;top:947px;width:80px;height:40px;line-height:40px"><svg class="one" viewBox="0 -1472 1139 1472" preserveAspectRatio="none"><path d="M763 0H583V-1147Q518 -1085 412.5 -1023Q307 -961 223 -930V-1104Q374 -1175 487 -1276Q600 -1377 647 -1472H763Z"/></svg>.2</div>
<div class="c" style="left:1383px;top:947px;width:114px;height:40px;line-height:40px">500</div>
<div class="c" style="left:917px;top:1001px;width:211px;height:40px;line-height:40px">VCPL-34</div>
<div class="c" style="left:1132px;top:1001px;width:79px;height:40px;line-height:40px">22.0</div>
<div class="c" style="left:1215px;top:1001px;width:80px;height:40px;line-height:40px"><svg class="one" viewBox="0 -1472 1139 1472" preserveAspectRatio="none"><path d="M763 0H583V-1147Q518 -1085 412.5 -1023Q307 -961 223 -930V-1104Q374 -1175 487 -1276Q600 -1377 647 -1472H763Z"/></svg>6.0</div>
<div class="c" style="left:1299px;top:1001px;width:80px;height:40px;line-height:40px"><svg class="one" viewBox="0 -1472 1139 1472" preserveAspectRatio="none"><path d="M763 0H583V-1147Q518 -1085 412.5 -1023Q307 -961 223 -930V-1104Q374 -1175 487 -1276Q600 -1377 647 -1472H763Z"/></svg>.2</div>
<div class="c" style="left:1383px;top:1001px;width:114px;height:40px;line-height:40px">200</div>
</body></html>
